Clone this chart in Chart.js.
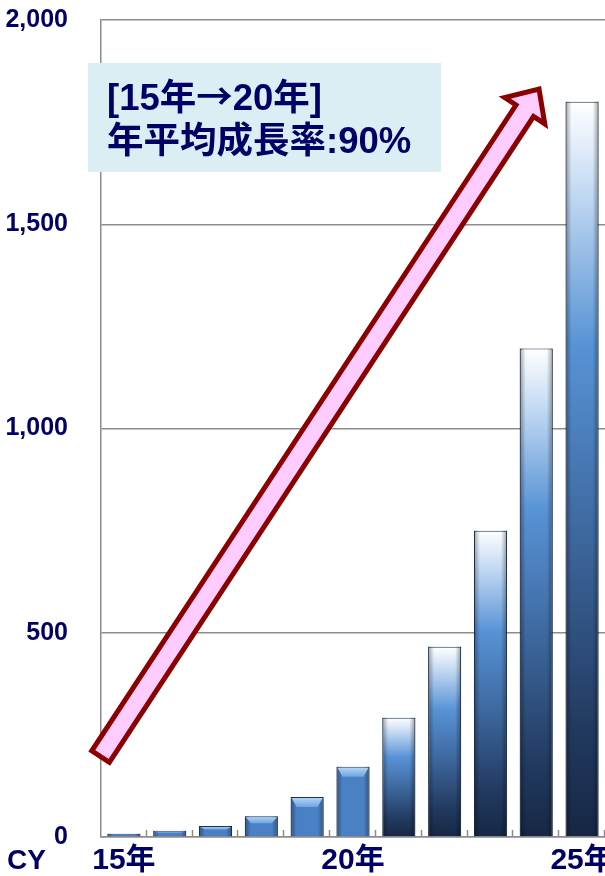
<!DOCTYPE html>
<html>
<head>
<meta charset="utf-8">
<script src="https://cdn.jsdelivr.net/npm/chart.js@4/dist/chart.umd.min.js"></script>
<style>
  html, body { margin: 0; padding: 0; background: #fff; }
  canvas { display: block; }
</style>
</head>
<body>
<canvas id="growthChart" width="605" height="876"></canvas>
<script>
// values
const categories = ['15年', '16年', '17年', '18年', '19年', '20年', '21年', '22年', '23年', '24年', '25年'];
const tickLabels = ['15年', '', '', '', '', '20年', '', '', '', '', '25年'];
const values = [8, 15, 27, 51, 98, 172, 292, 466, 750, 1196, 1800];
const yTicks = [0, 500, 1000, 1500, 2000];
const noteLines = ['[15年→20年]', '年平均成長率:90%'];
// arrow ends in data units: [category index, value]
const arrowFrom = [-0.51, 197];
const arrowTo = [9.06, 1831];

const FONT = '"Liberation Sans", Arial, "Noto Sans CJK JP", sans-serif';
const CJK = '"Noto Sans CJK JP", sans-serif';
const NAVY = '#000066';
const GRID = '#8c8c8c';
const FORECAST_FROM = 6; // bars from 21年 on use the white-to-navy look

function barFill(context) {
    const chart = context.chart;
    const i = context.dataIndex;
    if (i < FORECAST_FROM) return '#4a80c4';
    const area = chart.chartArea;
    if (!area) return '#3a6aa8';
    const y = chart.scales.y;
    const top = y.getPixelForValue(values[i]);
    const base = y.getPixelForValue(0);
    const g = chart.ctx.createLinearGradient(0, top, 0, base);
    g.addColorStop(0, '#ffffff');
    g.addColorStop(0.12, '#c4daf2');
    g.addColorStop(0.33, '#5893d6');
    g.addColorStop(0.6, '#3c669c');
    g.addColorStop(0.85, '#223a60');
    g.addColorStop(1, '#162744');
    return g;
}

// draw a line of text, using the CJK font for the arrow glyph
function drawNote(ctx, text, x, y, size) {
    const parts = text.split('→');
    parts.forEach((p, k) => {
        ctx.font = 'bold ' + size + 'px ' + FONT;
        ctx.fillText(p, x, y);
        x += ctx.measureText(p).width;
        if (k < parts.length - 1) {
            ctx.font = 'bold ' + size + 'px ' + CJK;
            ctx.fillText('→', x, y);
            x += ctx.measureText('→').width;
        }
    });
}

const decoPlugin = {
    id: 'deco',
    afterDatasetsDraw(chart) {
        const ctx = chart.ctx;
        const meta = chart.getDatasetMeta(0);
        meta.data.forEach((bar, i) => {
            const w = bar.width;
            const left = bar.x - w / 2;
            const top = bar.y;
            const h = bar.base - bar.y;
            ctx.save();
            // side shading
            const s = ctx.createLinearGradient(left, 0, left + w, 0);
            s.addColorStop(0, 'rgba(0,0,0,0.35)');
            s.addColorStop(0.18, 'rgba(0,0,0,0)');
            s.addColorStop(0.82, 'rgba(0,0,0,0)');
            s.addColorStop(1, 'rgba(0,0,0,0.35)');
            ctx.fillStyle = s;
            ctx.fillRect(left, top, w, h);
            if (i < FORECAST_FROM) {
                // light bevel on top of the small bars
                const d = Math.min(h * 0.35, 10);
                const b = ctx.createLinearGradient(0, top, 0, top + d);
                b.addColorStop(0, '#b9d8f8');
                b.addColorStop(1, '#6ea4e2');
                ctx.fillStyle = b;
                ctx.beginPath();
                ctx.moveTo(left + 1, top + 1);
                ctx.lineTo(left + w - 1, top + 1);
                ctx.lineTo(left + w - 6, top + d);
                ctx.lineTo(left + 6, top + d);
                ctx.closePath();
                ctx.fill();
            }
            ctx.restore();
        });

        // small tick marks between categories, pointing up
        const area = chart.chartArea;
        const step = (area.right - area.left) / categories.length;
        ctx.save();
        ctx.strokeStyle = GRID;
        ctx.lineWidth = 1.5;
        for (let k = 1; k <= categories.length; k++) {
            const px = Math.round(area.left + k * step) - 0.5;
            ctx.beginPath();
            ctx.moveTo(px, area.bottom);
            ctx.lineTo(px, area.bottom - 7);
            ctx.stroke();
        }
        ctx.restore();
    },
    afterDraw(chart) {
        const ctx = chart.ctx;
        const xs = chart.scales.x;
        const ys = chart.scales.y;

        // growth arrow
        const p0 = { x: xs.getPixelForValue(arrowFrom[0]), y: ys.getPixelForValue(arrowFrom[1]) };
        const p1 = { x: xs.getPixelForValue(arrowTo[0]), y: ys.getPixelForValue(arrowTo[1]) };
        const len = Math.hypot(p1.x - p0.x, p1.y - p0.y);
        const u = { x: (p1.x - p0.x) / len, y: (p1.y - p0.y) / len };
        const n = { x: -u.y, y: u.x };
        const sw = 10.5, hw = 24, hl = 26;
        const nx = p1.x - u.x * hl, ny = p1.y - u.y * hl;
        ctx.save();
        ctx.beginPath();
        ctx.moveTo(p0.x + n.x * sw, p0.y + n.y * sw);
        ctx.lineTo(nx + n.x * sw, ny + n.y * sw);
        ctx.lineTo(nx + n.x * hw, ny + n.y * hw);
        ctx.lineTo(p1.x, p1.y);
        ctx.lineTo(nx - n.x * hw, ny - n.y * hw);
        ctx.lineTo(nx - n.x * sw, ny - n.y * sw);
        ctx.lineTo(p0.x - n.x * sw, p0.y - n.y * sw);
        ctx.closePath();
        ctx.fillStyle = '#ffccff';
        ctx.fill();
        ctx.lineWidth = 5;
        ctx.lineJoin = 'miter';
        ctx.strokeStyle = '#8b0000';
        ctx.stroke();
        ctx.restore();

        // note box
        ctx.save();
        ctx.fillStyle = '#dbeef4';
        ctx.fillRect(88, 63, 353, 109);
        ctx.fillStyle = NAVY;
        ctx.textBaseline = 'alphabetic';
        ctx.textAlign = 'left';
        drawNote(ctx, noteLines[0], 107, 110, 36.5);
        drawNote(ctx, noteLines[1], 107, 153, 36.5);
        // CY label
        ctx.font = 'bold 28px ' + FONT;
        ctx.textBaseline = 'middle';
        ctx.fillText('CY', 7, 861);
        ctx.restore();
    }
};

const ctx = document.getElementById('growthChart').getContext('2d');
new Chart(ctx, {
    type: 'bar',
    data: {
        labels: tickLabels,
        datasets: [{
            label: 'CY',
            data: values,
            backgroundColor: barFill,
            borderColor: '#1d3558',
            borderWidth: 1,
            categoryPercentage: 1,
            barPercentage: 0.72
        }]
    },
    options: {
        responsive: false,
        devicePixelRatio: 1,
        animation: false,
        layout: { padding: { top: 20, right: 0, left: 0, bottom: 0 } },
        plugins: {
            legend: { display: false },
            tooltip: { enabled: false }
        },
        scales: {
            x: {
                grid: { display: false, drawTicks: false },
                border: { display: true, color: GRID, width: 1.5 },
                ticks: {
                    autoSkip: false,
                    maxRotation: 0,
                    padding: 6,
                    color: NAVY,
                    font: { family: FONT, size: 30, weight: 'bold' }
                },
                afterFit(scale) {
                    scale.height = 39;
                    scale.paddingLeft = 0;
                    scale.paddingRight = 0;
                }
            },
            y: {
                min: 0,
                max: 2000,
                afterBuildTicks(scale) {
                    scale.ticks = yTicks.map(v => ({ value: v }));
                },
                grid: { color: GRID, lineWidth: 1.5, drawTicks: false },
                border: { display: true, color: GRID, width: 1.5 },
                ticks: {
                    padding: 33,
                    color: NAVY,
                    font: { family: FONT, size: 25, weight: 'bold' },
                    callback: v => Number(v).toLocaleString('en-US')
                },
                afterFit(scale) {
                    scale.width = 101;
                    scale.paddingTop = 0;
                    scale.paddingBottom = 0;
                }
            }
        }
    },
    plugins: [decoPlugin]
});
</script>
</body>
</html>
